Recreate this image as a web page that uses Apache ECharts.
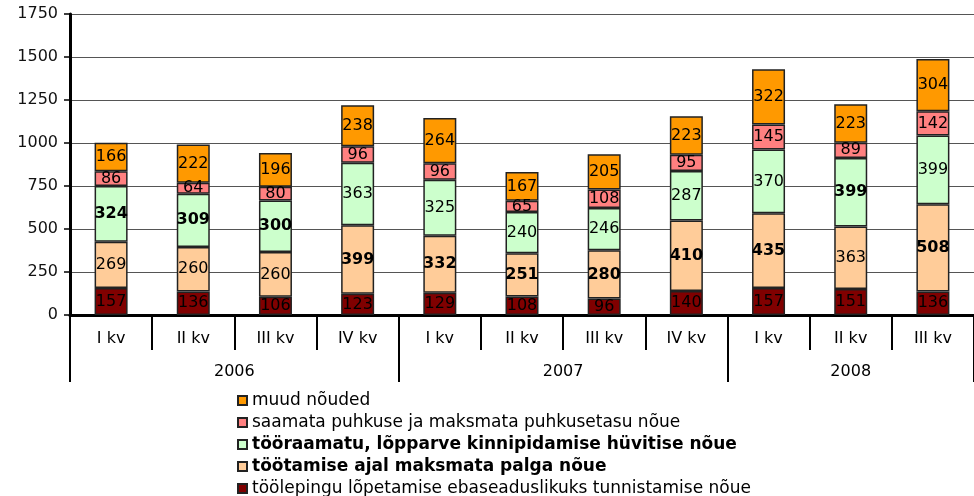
<!DOCTYPE html>
<html>
<head>
<meta charset="utf-8">
<script src="https://cdn.jsdelivr.net/npm/echarts@6/dist/echarts.min.js"></script>
<style>
  html, body { margin: 0; padding: 0; background: #fff; }
  #chart { width: 974px; height: 496px; }
</style>
</head>
<body>
<div id="chart"></div>
<script>
// quarters and years (two-level x axis)
const quarters = ['I kv', 'II kv', 'III kv', 'IV kv', 'I kv', 'II kv', 'III kv', 'IV kv', 'I kv', 'II kv', 'III kv'];
const years = ['2006', '2007', '2008'];
const yearSpans = [4, 4, 3];

// stacked series, bottom to top
const seriesNames = [
  'töölepingu lõpetamise ebaseaduslikuks tunnistamise nõue',
  'töötamise ajal maksmata palga nõue',
  'tööraamatu, lõpparve kinnipidamise hüvitise nõue',
  'saamata puhkuse ja maksmata puhkusetasu nõue',
  'muud nõuded'
];
const toolepingu = [157, 136, 106, 123, 129, 108, 96, 140, 157, 151, 136];
const palk = [269, 260, 260, 399, 332, 251, 280, 410, 435, 363, 508];
const tooraamat = [324, 309, 300, 363, 325, 240, 246, 287, 370, 399, 399];
const puhkus = [86, 64, 80, 96, 96, 65, 108, 95, 145, 89, 142];
const muud = [166, 222, 196, 238, 264, 167, 205, 223, 322, 223, 304];

// which bar labels are printed bold in the original
const palkBold = [3, 4, 5, 6, 7, 8, 10];
const tooraamatBold = [0, 1, 2, 9];

const yTicks = { min: 0, max: 1750, interval: 250 };

const colors = ['#800000', '#FFCC99', '#CCFFCC', '#FF8080', '#FF9900'];
const FONT = '"DejaVu Sans", Verdana, sans-serif';

// year axis: half-category slots so labels can sit between bars
const yearSlots = [];
const yearTickIdx = [0];
const yearLabelIdx = {};
let pos = 0;
years.forEach((y, i) => {
  const mid = pos + yearSpans[i]; // in half slots
  yearLabelIdx[mid] = y;
  pos += yearSpans[i] * 2;
  yearTickIdx.push(pos);
});
for (let i = 0; i <= quarters.length * 2; i++) yearSlots.push(yearLabelIdx[i] || '');

function withBold(values, boldIdx) {
  return values.map((v, i) => boldIdx.includes(i) ? { value: v, label: { fontWeight: 'bold' } } : v);
}

const seriesData = [
  toolepingu,
  withBold(palk, palkBold),
  withBold(tooraamat, tooraamatBold),
  puhkus,
  muud
];

const myChart = echarts.init(document.getElementById('chart'));

const option = {
  backgroundColor: '#fff',
  animation: false,
  textStyle: { fontFamily: FONT },
  grid: { left: 70, top: 14, width: 913, height: 301, containLabel: false },
  legend: {
    orient: 'vertical',
    left: 232,
    top: 387,
    height: 200,
    itemGap: 5,
    itemWidth: 9,
    itemHeight: 9,
    icon: 'rect',
    textStyle: { fontFamily: FONT, fontSize: 17, color: '#000' },
    data: [
      { name: seriesNames[4] },
      { name: seriesNames[3] },
      { name: seriesNames[2], textStyle: { fontWeight: 'bold' } },
      { name: seriesNames[1], textStyle: { fontWeight: 'bold' } },
      { name: seriesNames[0] }
    ]
  },
  xAxis: [
    {
      type: 'category',
      data: quarters,
      position: 'bottom',
      axisLine: { lineStyle: { color: '#000', width: 3 } },
      axisTick: { show: true, interval: 0, length: 35, lineStyle: { color: '#000', width: 2 } },
      axisLabel: { color: '#000', fontSize: 16, margin: 16, interval: 0 }
    },
    {
      type: 'category',
      data: yearSlots,
      position: 'bottom',
      boundaryGap: false,
      axisLine: { show: false },
      axisTick: {
        show: true,
        length: 67,
        interval: (i) => yearTickIdx.includes(i),
        lineStyle: { color: '#000', width: 2 }
      },
      axisLabel: {
        color: '#000',
        fontSize: 16,
        margin: 49,
        interval: (i, v) => v !== ''
      }
    }
  ],
  yAxis: {
    type: 'value',
    min: yTicks.min,
    max: yTicks.max,
    interval: yTicks.interval,
    axisLine: { show: true, lineStyle: { color: '#000', width: 3 } },
    axisTick: { show: true, length: 6, lineStyle: { color: '#000', width: 1.5 } },
    axisLabel: { color: '#111', fontSize: 16, margin: 12, formatter: (v) => String(v) },
    splitLine: { lineStyle: { color: '#555', width: 1 } }
  },
  series: seriesNames.map((name, i) => ({
    name,
    type: 'bar',
    stack: 'total',
    barWidth: 33,
    data: seriesData[i],
    itemStyle: { color: colors[i], borderColor: '#222', borderWidth: 1.5 },
    label: {
      show: true,
      position: 'inside',
      color: '#000',
      fontSize: 16,
      fontFamily: FONT
    }
  }))
};

myChart.setOption(option);
</script>
</body>
</html>
